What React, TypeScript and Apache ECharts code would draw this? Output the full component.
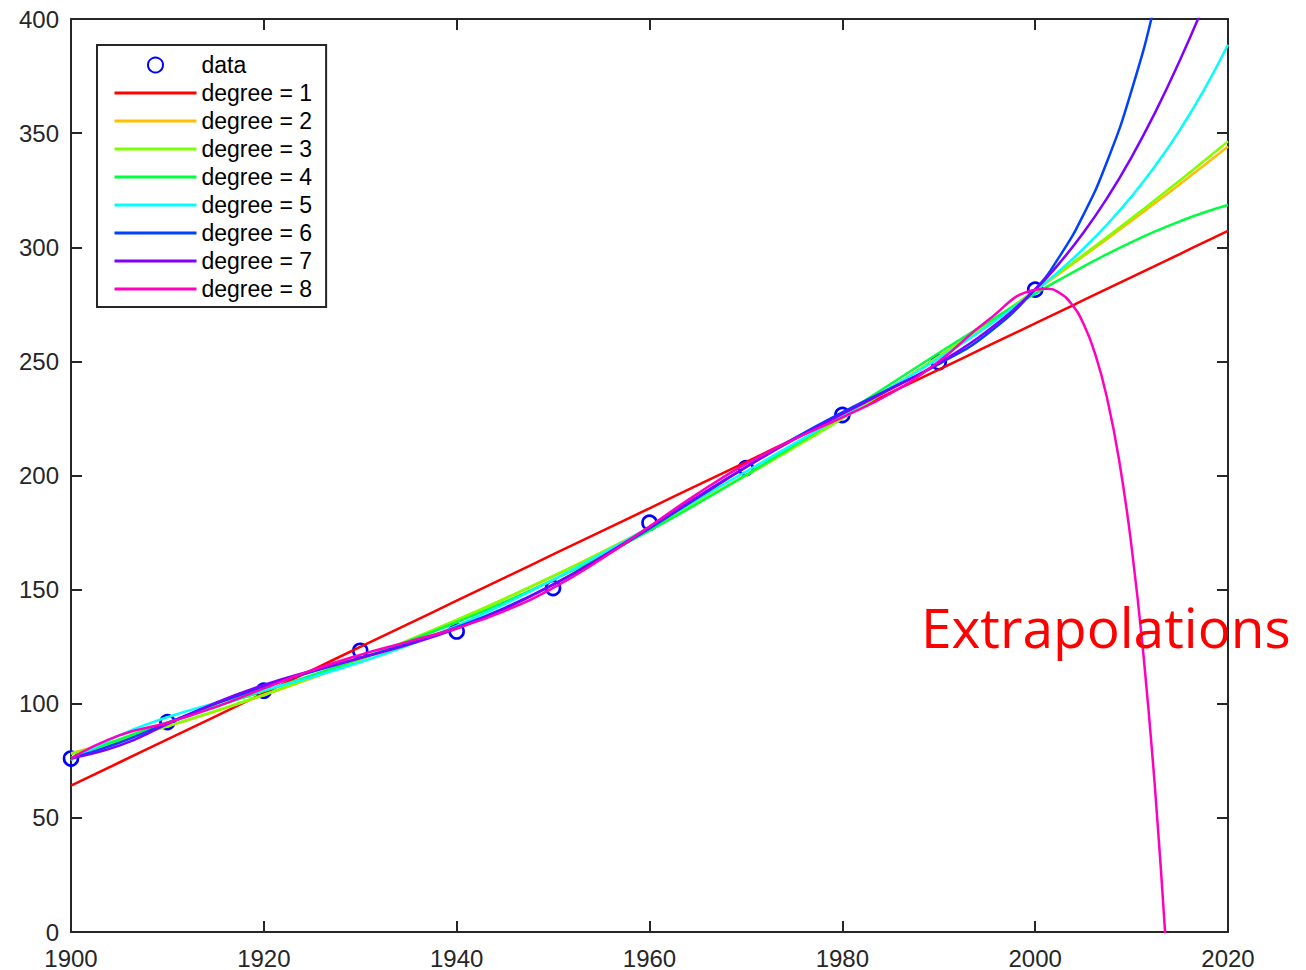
import React, { useEffect, useRef } from "react";
import * as echarts from "echarts";

// Census data (millions)
const CENSUS_YEARS = [1900, 1910, 1920, 1930, 1940, 1950, 1960, 1970, 1980, 1990, 2000];
const CENSUS_POP = [75.995, 91.972, 105.711, 123.203, 131.669, 150.697, 179.323, 203.212, 226.505, 249.633, 281.422];

// Sample years along the fitted curves
const FIT_YEARS = [
  1900, 1905, 1910, 1915, 1920, 1925, 1930, 1935, 1940, 1945, 1950, 1955, 1960, 1965, 1970,
  1975, 1980, 1985, 1990, 1995, 2000, 2002.5, 2005, 2007.5, 2010, 2012.5, 2015, 2017.5, 2020,
];

const DEG1 = [64.13, 74.26, 84.38, 94.51, 104.64, 114.76, 124.89, 135.02, 145.14, 155.27, 165.39, 175.52, 185.65, 195.77, 205.9, 216.03, 226.15, 236.28, 246.41, 256.53, 266.66, 271.72, 276.79, 281.85, 286.91, 291.98, 297.04, 302.1, 307.17];
const DEG2 = [78.37, 83.98, 90.08, 96.64, 103.69, 111.2, 119.19, 127.66, 136.6, 146.02, 155.9, 166.27, 177.11, 188.42, 200.21, 212.47, 225.21, 238.42, 252.1, 266.26, 280.9, 288.39, 296.01, 303.74, 311.59, 319.56, 327.65, 335.85, 344.18];
const DEG3 = [78.0, 83.87, 90.15, 96.84, 103.95, 111.5, 119.47, 127.9, 136.77, 146.1, 155.9, 166.18, 176.94, 188.18, 199.93, 212.18, 224.94, 238.22, 252.03, 266.37, 281.26, 288.91, 296.7, 304.62, 312.69, 320.9, 329.25, 337.75, 346.39];
const DEG4 = [76.39, 84.41, 91.76, 98.72, 105.56, 112.51, 119.74, 127.43, 135.7, 144.63, 154.3, 164.71, 175.86, 187.72, 200.2, 213.19, 226.55, 240.1, 253.64, 266.91, 279.65, 285.72, 291.54, 297.06, 302.23, 307.02, 311.36, 315.2, 318.5];
const DEG5 = [75.24, 86.17, 94.07, 100.31, 105.95, 111.74, 118.2, 125.63, 134.16, 143.75, 154.3, 165.59, 177.41, 189.52, 201.74, 213.95, 226.16, 238.51, 251.32, 265.16, 280.81, 289.65, 299.38, 310.19, 322.29, 335.92, 351.34, 368.83, 388.7];
const DEG6 = [76.02, 82.92, 91.55, 99.99, 107.47, 114.02, 120.09, 126.37, 133.52, 142.05, 152.19, 163.89, 176.78, 190.26, 203.63, 216.23, 227.69, 238.18, 248.8, 261.91, 281.6, 295.78, 314.18, 338.02, 368.75, 408.02, 457.77, 520.18, 597.75];
const DEG7 = [76.13, 81.64, 91.04, 100.39, 108.2, 114.49, 120.05, 125.89, 132.91, 141.63, 152.19, 164.31, 177.39, 190.74, 203.67, 215.76, 226.96, 237.78, 249.31, 263.19, 281.49, 292.96, 306.33, 321.8, 339.52, 359.54, 381.82, 406.14, 432.13];

const DEG8_YEARS = [
  1900, 1905, 1910, 1915, 1920, 1925, 1930, 1935, 1940, 1945, 1950, 1955, 1960, 1965, 1970,
  1975, 1980, 1985, 1990, 1995, 2000, 2001.25, 2002.5, 2003.75, 2005, 2006.25, 2007.5, 2008.75,
  2010, 2011.25, 2012.5, 2013.75, 2015,
];
const DEG8 = [76.03, 86.12, 91.67, 98.54, 106.72, 114.67, 121.43, 127.22, 133.19, 140.72, 150.77, 163.39, 177.68, 192.07, 205.06, 215.94, 225.47, 235.93, 249.94, 267.68, 281.38, 281.85, 280.05, 275.26, 266.57, 252.93, 233.08, 205.59, 168.76, 120.62, 58.98, -18.75, -115.38];

const FIT_NAMES = ["degree = 1", "degree = 2", "degree = 3", "degree = 4", "degree = 5", "degree = 6", "degree = 7", "degree = 8"];
const FIT_COLORS = ["#ff0000", "#ffbf00", "#80ff00", "#00ff40", "#00ffff", "#0040ff", "#8000ff", "#ff00bf"];

const X_MIN = 1900;
const X_MAX = 2020;
const X_STEP = 20;
const Y_MIN = 0;
const Y_MAX = 400;
const Y_STEP = 50;

const ANNOTATION = "Extrapolations";

const FONT = "'Liberation Sans', Arial, Helvetica, sans-serif";
const AXIS_COLOR = "#262626";

function zip(xs: number[], ys: number[]) {
  return xs.map((x, i) => [x, ys[i]]);
}

export default function App() {
  const ref = useRef<HTMLDivElement>(null);

  useEffect(() => {
    if (!ref.current) return;
    const chart = echarts.init(ref.current, null, { renderer: "svg" });

    const fits = [DEG1, DEG2, DEG3, DEG4, DEG5, DEG6, DEG7];
    const lineSeries: any[] = fits.map((vals, i) => ({
      name: FIT_NAMES[i],
      type: "line",
      data: zip(FIT_YEARS, vals),
      symbol: "none",
      smooth: true,
      clip: true,
      lineStyle: { color: FIT_COLORS[i], width: 2.5 },
      itemStyle: { color: FIT_COLORS[i] },
      z: 3 + i,
    }));
    lineSeries.push({
      name: FIT_NAMES[7],
      type: "line",
      data: zip(DEG8_YEARS, DEG8),
      symbol: "none",
      smooth: true,
      clip: true,
      lineStyle: { color: FIT_COLORS[7], width: 2.5 },
      itemStyle: { color: FIT_COLORS[7] },
      z: 10,
    });

    const axisCommon = {
      axisLine: { show: true, onZero: false, lineStyle: { color: AXIS_COLOR, width: 2 } },
      axisTick: { show: true, inside: true, length: 11, lineStyle: { color: AXIS_COLOR, width: 2 } },
      splitLine: { show: false },
    };

    const plain = (v: number) => String(v);

    chart.setOption({
      animation: false,
      backgroundColor: "#ffffff",
      grid: { left: 71, top: 19, right: 78, bottom: 38, containLabel: false },
      xAxis: [
        {
          type: "value",
          position: "bottom",
          min: X_MIN,
          max: X_MAX,
          interval: X_STEP,
          ...axisCommon,
          axisLabel: { show: true, color: AXIS_COLOR, fontSize: 24, fontFamily: FONT, margin: 14, formatter: plain },
        },
        {
          type: "value",
          position: "top",
          min: X_MIN,
          max: X_MAX,
          interval: X_STEP,
          ...axisCommon,
          axisLabel: { show: false },
        },
      ],
      yAxis: [
        {
          type: "value",
          position: "left",
          min: Y_MIN,
          max: Y_MAX,
          interval: Y_STEP,
          ...axisCommon,
          axisLabel: { show: true, color: AXIS_COLOR, fontSize: 24, fontFamily: FONT, margin: 12, formatter: plain },
        },
        {
          type: "value",
          position: "right",
          min: Y_MIN,
          max: Y_MAX,
          interval: Y_STEP,
          ...axisCommon,
          axisLabel: { show: false },
        },
      ],
      legend: {
        orient: "vertical",
        left: 97,
        top: 45,
        itemWidth: 82,
        itemHeight: 15,
        itemGap: 4,
        padding: [8, 14, 6, 16],
        borderColor: AXIS_COLOR,
        borderWidth: 2,
        backgroundColor: "#ffffff",
        lineStyle: { width: 3 },
        textStyle: { fontSize: 23, color: "#000000", fontFamily: FONT, lineHeight: 24 },
        data: [
          { name: "data" },
          ...FIT_NAMES.map((n) => ({ name: n, itemStyle: { opacity: 0 } })),
        ],
      },
      tooltip: { show: false },
      series: [
        {
          name: "data",
          type: "scatter",
          data: zip(CENSUS_YEARS, CENSUS_POP),
          symbol: "circle",
          symbolSize: 14,
          itemStyle: { color: "rgba(255,255,255,0)", borderColor: "#0000ff", borderWidth: 2.6, opacity: 1 },
          z: 2,
        },
        ...lineSeries,
      ],
      graphic: [
        {
          type: "text",
          x: 921,
          y: 626,
          z: 100,
          style: {
            text: ANNOTATION,
            fill: "#ff0000",
            fontSize: 55,
            fontFamily: "'Open Sans', 'Noto Sans', sans-serif",
            verticalAlign: "middle",
            align: "left",
          },
        },
      ],
    });

    return () => chart.dispose();
  }, []);

  return (
    <div
      ref={ref}
      style={{ position: "absolute", left: 0, top: 0, width: 1306, height: 970, background: "#fff" }}
    />
  );
}
